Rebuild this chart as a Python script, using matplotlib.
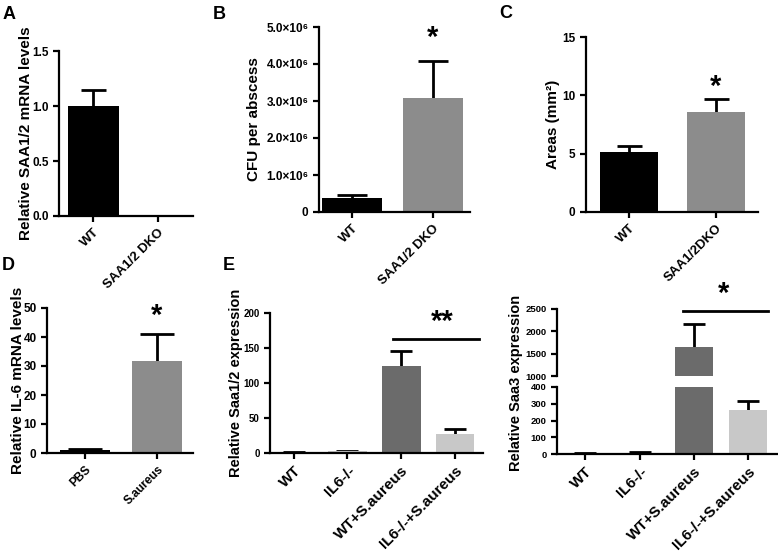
import numpy as np
import matplotlib.pyplot as plt

plt.rcParams['font.family'] = ['Liberation Sans', 'DejaVu Sans']
plt.rcParams['font.weight'] = 'bold'
plt.rcParams['axes.labelweight'] = 'bold'
plt.rcParams['axes.linewidth'] = 1.6

# panel A
a_groups = ['WT', 'SAA1/2 DKO']
a_vals = [1.0, 0.0]
a_err = [0.145, 0.0]
# panel B
b_groups = ['WT', 'SAA1/2 DKO']
b_vals = [0.38e6, 3.08e6]
b_err = [0.09e6, 1.0e6]
b_ticks = [0, 1e6, 2e6, 3e6, 4e6, 5e6]
b_ticklabels = ['0', '1.0×10⁶', '2.0×10⁶', '3.0×10⁶', '4.0×10⁶', '5.0×10⁶']
# panel C
c_groups = ['WT', 'SAA1/2DKO']
c_vals = [5.15, 8.57]
c_err = [0.5, 1.1]
# panel D
d_groups = ['PBS', 'S.aureus']
d_vals = [1.2, 31.8]
d_err = [0.2, 9.2]
# panel E
e_groups = ['WT', 'IL6-/-', 'WT+S.aureus', 'IL6-/-+S.aureus']
e1_vals = [1.0, 2.5, 124.4, 26.8]
e1_err = [0.5, 1.0, 21.6, 7.6]
e2_vals = [3, 8, 1660, 264]
e2_err = [1, 3, 510, 54]

W, H = 778, 553
fig = plt.figure(figsize=(W / 100, H / 100), dpi=100)


def box(x0, x1, y0, y1):
    # pixel box -> figure fraction
    return [x0 / W, 1 - y1 / H, (x1 - x0) / W, (y1 - y0) / H]


def style(ax, ytick_size=8.5):
    ax.spines['top'].set_visible(False)
    ax.spines['right'].set_visible(False)
    ax.tick_params(direction='out', length=4, width=1.6, labelsize=ytick_size)
    ax.patch.set_alpha(0)


def upper_err(ax, x, vals, err, capsize):
    # only the upper half of the error bar, like Prism draws it
    res = ax.errorbar(x, vals, yerr=[np.zeros(len(err)), err], fmt='none', ecolor='black',
                      elinewidth=2, capsize=capsize, capthick=2, zorder=1)
    res[1][0].set_visible(False)


def bars(ax, vals, err, colors, width, capsize):
    x = np.arange(len(vals))
    ax.bar(x, vals, width, color=colors, zorder=2)
    upper_err(ax, x, vals, err, capsize)
    return x


def xlabels(ax, x, groups, size):
    ax.set_xticks(x)
    ax.set_xticklabels(groups, rotation=45, ha='right', rotation_mode='anchor', fontsize=size)


# A
ax = fig.add_axes(box(59, 193, 51, 216))
style(ax)
x = bars(ax, a_vals, a_err, ['black', 'black'], 0.79, 9)
ax.set_xlim(-0.53, 1.55)
ax.set_ylim(0, 1.5)
ax.set_yticks([0, 0.5, 1.0, 1.5])
ax.set_yticklabels(['0.0', '0.5', '1.0', '1.5'])
xlabels(ax, x, a_groups, 9.5)
ax.set_ylabel('Relative SAA1/2 mRNA levels', fontsize=11, labelpad=-1)

# B
ax = fig.add_axes(box(319, 470, 27, 212))
style(ax)
x = bars(ax, b_vals, b_err, ['black', '#8c8c8c'], 0.74, 11)
ax.set_xlim(-0.41, 1.46)
ax.set_ylim(0, 5e6)
ax.set_yticks(b_ticks)
ax.set_yticklabels(b_ticklabels)
xlabels(ax, x, b_groups, 9.5)
ax.set_ylabel('CFU per abscess', fontsize=11)
ax.text(1, 4.5e6, '*', ha='center', va='baseline', fontsize=21, clip_on=False)

# C
ax = fig.add_axes(box(586, 758, 37, 212))
style(ax)
x = bars(ax, c_vals, c_err, ['black', '#8c8c8c'], 0.67, 9)
ax.set_xlim(-0.5, 1.49)
ax.set_ylim(0, 15)
ax.set_yticks([0, 5, 10, 15])
xlabels(ax, x, c_groups, 9.5)
ax.set_ylabel('Areas (mm²)', fontsize=11, labelpad=2)
ax.text(1, 10.0, '*', ha='center', va='baseline', fontsize=21, clip_on=False)

# D
ax = fig.add_axes(box(47, 193, 308, 453))
style(ax)
x = bars(ax, d_vals, d_err, ['black', '#8c8c8c'], 0.69, 12)
ax.set_xlim(-0.53, 1.5)
ax.set_ylim(0, 50)
ax.set_yticks([0, 10, 20, 30, 40, 50])
xlabels(ax, x, d_groups, 8.5)
ax.set_ylabel('Relative IL-6 mRNA levels', fontsize=11, labelpad=-1)
ax.text(1, 44.5, '*', ha='center', va='baseline', fontsize=21, clip_on=False)

e_colors = ['black', '#c4c4c4', '#6b6b6b', '#c8c8c8']

# E left
ax = fig.add_axes(box(270, 483, 313, 453))
style(ax, 7)
x = bars(ax, e1_vals, e1_err, e_colors, 0.72, 8)
ax.set_xlim(-0.44, 3.52)
ax.set_ylim(0, 200)
ax.set_yticks([0, 50, 100, 150, 200])
xlabels(ax, x, e_groups, 11)
ax.set_ylabel('Relative Saa1/2 expression', fontsize=10.5, labelpad=0)
ax.plot([1.85, 3.44], [163, 163], color='black', lw=2, clip_on=False)
ax.text(2.76, 176, '**', ha='center', va='baseline', fontsize=21, clip_on=False)

# E right, broken y axis
top = fig.add_axes(box(557, 777, 309, 376))
bot = fig.add_axes(box(557, 777, 387, 454))
x = np.arange(len(e2_vals))
for a in (top, bot):
    style(a, 6.8)
    a.bar(x, e2_vals, 0.7, color=e_colors, zorder=2)
    a.set_xlim(-0.52, 3.53)
top.spines['bottom'].set_visible(False)
top.tick_params(axis='x', bottom=False, labelbottom=False)
top.set_ylim(1000, 2500)
top.set_yticks([1000, 1500, 2000, 2500])
upper_err(top, x[2:3], e2_vals[2:3], e2_err[2:3], 8)
keep = [0, 1, 3]
upper_err(bot, x[keep], np.array(e2_vals)[keep], np.array(e2_err)[keep], 8)
bot.set_ylim(0, 400)
bot.set_yticks([0, 100, 200, 300, 400])
xlabels(bot, x, e_groups, 11)
top.plot([1.80, 3.37], [2455, 2455], color='black', lw=2, clip_on=False)
top.text(2.54, 2650, '*', ha='center', va='baseline', fontsize=21, clip_on=False)
fig.text(516 / W, 1 - 383 / H, 'Relative Saa3 expression', rotation=90,
         ha='center', va='center', fontsize=10.5, weight='bold')

# panel letters
for lab, px, py in [('A', 3, 6), ('B', 213, 6), ('C', 499, 5), ('D', 2, 257), ('E', 223, 257)]:
    fig.text(px / W, 1 - py / H, lab, ha='left', va='top', fontsize=13, weight='bold')

fig.savefig('out.png', dpi=100)
